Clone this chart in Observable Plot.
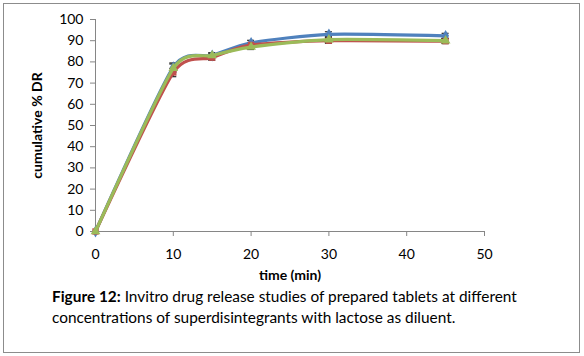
<!DOCTYPE html>
<html><head><meta charset="utf-8">
<script src="https://cdn.jsdelivr.net/npm/d3@7"></script>
<script src="https://cdn.jsdelivr.net/npm/@observablehq/plot@0.6"></script>
<style>
body{margin:0;background:#fff;font-family:Lato,"Open Sans",sans-serif;}
#frame{position:absolute;left:3px;top:3px;width:575px;height:348px;border:1px solid #8c8c8c;}
#chart{position:absolute;left:0;top:0;}
#cap{position:absolute;left:52px;top:286px;font-size:15.4px;line-height:21px;color:#000;white-space:nowrap;}
</style></head><body>
<div id="frame"></div>
<div id="chart"></div>
<div id="cap"><b>Figure 12:</b> Invitro drug release studies of prepared tablets at different<br>concentrations of superdisintegrants with lactose as diluent.</div>
<script>
const times = [0, 10, 15, 20, 30, 45];
const blue  = [0, 77.5, 83, 89, 93, 92.3];
const red   = [0, 75, 82, 88, 90, 89.8];
const green = [0, 77, 83, 87, 90.5, 90];
const errBlue  = [0, 2, 1.2, 1.2, 1.2, 1.2];
const errRed   = [0, 2, 1.2, 1.2, 1.2, 1.2];
const errGreen = [0, 2, 1.2, 1.2, 1.2, 1.2];
const yTicks = [0,10,20,30,40,50,60,70,80,90,100];
const xTicks = [0,10,20,30,40,50];
const series = [
  {name:"blue", vals:blue, err:errBlue, color:"#4F81BD", symbol:"diamond"},
  {name:"red", vals:red, err:errRed, color:"#C0504D", symbol:"square"},
  {name:"green", vals:green, err:errGreen, color:"#9BBB59", symbol:"triangle"}
];
const rows = series.flatMap(s => times.map((t,i)=>({s:s.name, t, v:s.vals[i], e:s.err[i], color:s.color, symbol:s.symbol})));
const marks = [
  Plot.ruleX([0], {y1:0, y2:100, stroke:"#868686"}),
  Plot.ruleY([0], {x1:0, x2:50, stroke:"#868686"})
];
for (const s of series) {
  const d = rows.filter(r=>r.s===s.name && r.e>0);
  marks.push(Plot.ruleX(d, {x:"t", y1:r=>r.v-r.e, y2:r=>r.v+r.e, stroke:"#000", strokeWidth:1}));
  marks.push(Plot.ruleY(d, {y:r=>r.v+r.e, x1:r=>r.t-0.45, x2:r=>r.t+0.45, stroke:"#000", strokeWidth:1}));
  marks.push(Plot.ruleY(d, {y:r=>r.v-r.e, x1:r=>r.t-0.45, x2:r=>r.t+0.45, stroke:"#000", strokeWidth:1}));
}
for (const s of series) {
  const d = rows.filter(r=>r.s===s.name);
  marks.push(Plot.line(d, {x:"t", y:"v", stroke:s.color, strokeWidth:3.2, curve:"cardinal", tension:0.35}));
  marks.push(Plot.dot(d, {x:"t", y:"v", fill:s.color, symbol:s.symbol, r:3.6, stroke:"none"}));
}
const chart = Plot.plot({
  width:584, height:285,
  marginLeft:95, marginRight:100, marginTop:19, marginBottom:54,
  style:{fontFamily:"Lato, 'Open Sans', sans-serif", fontSize:"14px", color:"#000", background:"transparent", overflow:"visible"},
  x:{domain:[0,50], label:null},
  y:{domain:[0,100], label:null},
  marks:[
    Plot.axisY({ticks:yTicks, tickSize:5, tickPadding:7, stroke:"#868686", fontSize:14}),
    Plot.axisX({ticks:xTicks, tickSize:5, tickPadding:13, stroke:"#868686", fontSize:14}),
    ...marks,
    Plot.text(["cumulative % DR"], {frameAnchor:"left", textAnchor:"middle", dx:-58, rotate:-90, fontWeight:"bold", fontSize:14}),
    Plot.text(["time (min)"], {frameAnchor:"bottom", dy:48, fontWeight:"bold", fontSize:14})
  ]
});
document.getElementById("chart").appendChild(chart);
</script></body></html>
